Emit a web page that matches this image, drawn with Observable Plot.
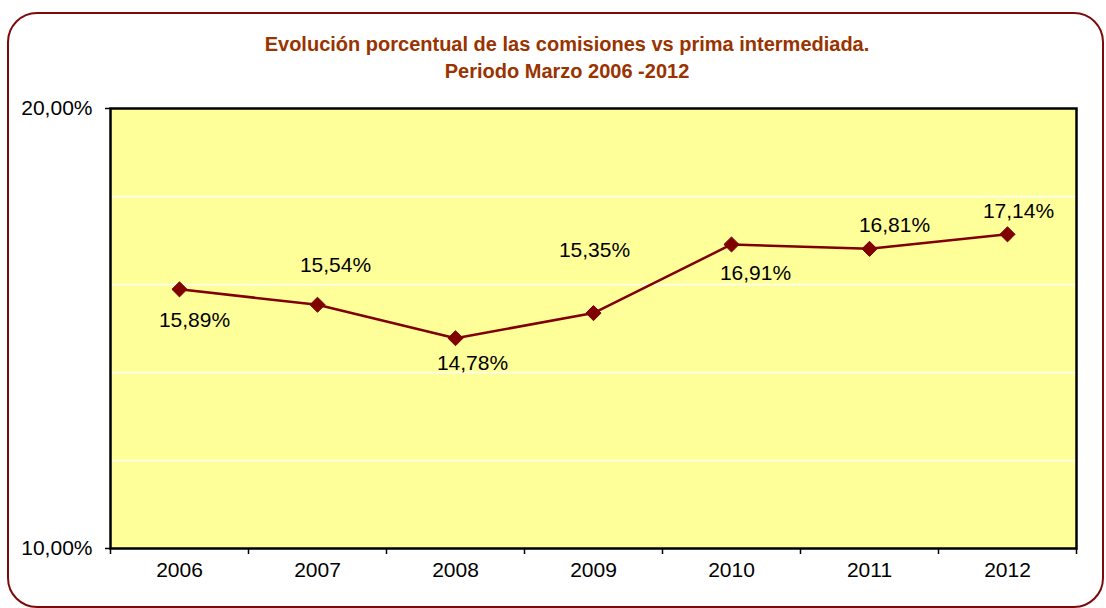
<!DOCTYPE html>
<html><head><meta charset="utf-8">
<script src="https://cdn.jsdelivr.net/npm/d3@7"></script>
<script src="https://cdn.jsdelivr.net/npm/@observablehq/plot@0.6"></script>
<style>
body{margin:0;background:#fff;width:1106px;height:608px;overflow:hidden;position:relative;font-family:"Liberation Sans",Arial,sans-serif;}
#border{position:absolute;left:7px;top:12px;width:1097px;height:596px;border:2px solid #7d0a0a;border-radius:30px;box-sizing:border-box;}
#title{position:absolute;left:0;top:31px;width:1134px;text-align:center;font-family:"Liberation Sans Narrow","Arial Narrow",sans-serif;font-weight:bold;font-size:20px;line-height:27px;color:#993300;}
#chart{position:absolute;left:0;top:90px;}
</style></head><body>
<div id="border"></div>
<div id="title">Evolución porcentual de las comisiones vs prima intermediada.<br>Periodo Marzo 2006 -2012</div>
<div id="chart"></div>
<script>
const years = [2006, 2007, 2008, 2009, 2010, 2011, 2012];
const values = [15.89, 15.54, 14.78, 15.35, 16.91, 16.81, 17.14];
const labelDx = [15, 18, 17, 1, 24, 25, 11];
const labelDy = [31, -39, 25, -63, 29, -24, -23];
const yTicks = [10, 20];
const gridValues = [12, 14, 16, 18];

const data = years.map((y, i) => ({year: y, value: values[i]}));
const fmt = d => d.toFixed(2).replace(".", ",") + "%";
const boundaries = [years[0] - 0.5, ...years.map(y => y + 0.5)];

const textMarks = data.map((d, i) => Plot.text([d], {
  x: "year", y: "value", text: dd => fmt(dd.value), dx: labelDx[i], dy: labelDy[i],
  fontSize: 21, fill: "#000"
}));

const chart = Plot.plot({
  width: 1106,
  height: 518,
  marginLeft: 110,
  marginRight: 30,
  marginTop: 18,
  marginBottom: 60,
  style: {fontFamily: "'Liberation Sans', Arial, sans-serif", fontSize: "21px", background: "transparent", color: "#000", overflow: "visible"},
  x: {type: "linear", domain: [years[0] - 0.5, years[years.length - 1] + 0.5]},
  y: {domain: [10, 20]},
  marks: [
    Plot.frame({fill: "#FFFF99", stroke: null}),
    Plot.gridY(gridValues, {stroke: "#ffffff", strokeOpacity: 1, strokeWidth: 1.5}),
    Plot.axisY(yTicks, {tickFormat: fmt, tickSize: 5, tickPadding: 13, fontSize: 21, label: null, strokeWidth: 1.5}),
    Plot.axisX(boundaries, {tickFormat: () => "", tickSize: 6, label: null, strokeWidth: 1.5}),
    Plot.axisX(years, {tickFormat: d => String(d), tickSize: 0, tickPadding: 14, fontSize: 21, label: null}),
    Plot.line(data, {x: "year", y: "value", stroke: "#800000", strokeWidth: 2.5}),
    Plot.dot(data, {x: "year", y: "value", symbol: "diamond2", r: 6.8, fill: "#800000", stroke: "#800000", strokeWidth: 1}),
    ...textMarks,
    Plot.frame({stroke: "#000", strokeWidth: 2.5})
  ]
});
document.getElementById("chart").appendChild(chart);
</script>
</body></html>
